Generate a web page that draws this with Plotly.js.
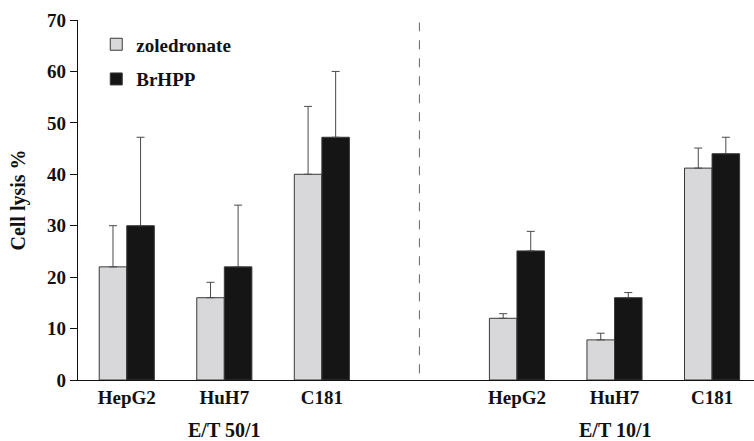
<!DOCTYPE html>
<html><head><meta charset="utf-8">
<script src="https://cdn.plot.ly/plotly-3.0.1.min.js"></script>
<style>body{margin:0;background:#fff}#chart{width:754px;height:441px}</style>
</head><body><div id="chart"></div>
<script>
const categories = ["HepG2", "HuH7", "C181", "", "HepG2", "HuH7", "C181"];
const positions = [0, 1, 2, 4, 5, 6];
const cellLines = ["HepG2", "HuH7", "C181", "HepG2", "HuH7", "C181"];
const zoledronate = [22, 16, 40, 12, 7.8, 41.2];
const zoledronateErr = [8, 3, 13.2, 0.9, 1.3, 3.9];
const brhpp = [30, 22, 47.2, 25.1, 16, 44];
const brhppErr = [17.2, 12, 12.8, 3.8, 1, 3.2];
const groupLabels = ["E/T 50/1", "E/T 10/1"];
const groupCenters = [1, 5];
const separatorX = 3;

const font = "Liberation Serif, Times New Roman, serif";
const lineCol = "#3a3a3a";

const traces = [
  {type: "bar", name: "zoledronate", x: positions, y: zoledronate,
   legendgroup: "a",
   marker: {color: "#d8d8da", line: {color: lineCol, width: 1}},
   error_y: {type: "data", array: zoledronateErr, arrayminus: positions.map(() => 0), symmetric: false,
             color: "#4a4a4a", thickness: 1, width: 4}},
  {type: "bar", name: "BrHPP", x: positions, y: brhpp,
   legendgroup: "b",
   marker: {color: "#151515", line: {color: lineCol, width: 1}},
   error_y: {type: "data", array: brhppErr, arrayminus: positions.map(() => 0), symmetric: false,
             color: "#4a4a4a", thickness: 1, width: 4}}
];

const layout = {
  width: 754, height: 441,
  margin: {l: 78, r: 0, t: 20, b: 61},
  paper_bgcolor: "#fff", plot_bgcolor: "#fff",
  barmode: "group", bargap: 0.435, bargroupgap: 0,
  font: {family: font, color: "#111"},
  showlegend: true,
  legend: {x: 0.027, y: 0.985, xanchor: "left", yanchor: "top", bgcolor: "rgba(0,0,0,0)",
           font: {family: font, size: 19, color: "#111", weight: "bold"},
           traceorder: "grouped", tracegroupgap: 7, itemwidth: 30},
  xaxis: {range: [-0.5, 6.43], tickmode: "array", tickvals: [0,1,2,3,4,5,6], ticktext: categories,
          showline: true, linecolor: "#111", linewidth: 1.2, ticks: "", showgrid: false, zeroline: false,
          tickfont: {family: font, size: 19, color: "#111", weight: "bold"}},
  yaxis: {range: [0, 70], dtick: 10, showline: true, linecolor: "#111", linewidth: 1.2,
          ticks: "outside", ticklen: 7, tickcolor: "#111", showgrid: false, zeroline: false,
          tickfont: {family: font, size: 19, color: "#111", weight: "bold"},
          title: {text: "Cell lysis %", font: {family: font, size: 20, color: "#111", weight: "bold"}, standoff: 16}},
  shapes: [{type: "line", xref: "x", yref: "y", x0: separatorX, x1: separatorX, y0: 1.3, y1: 69.5,
            line: {color: "#666", width: 1, dash: "dash"}}],
  annotations: groupLabels.map((t, i) => ({text: t, x: groupCenters[i], xref: "x", y: -0.138, yref: "paper",
    yanchor: "middle", showarrow: false, font: {family: font, size: 20, color: "#111", weight: "bold"}}))
};

Plotly.newPlot("chart", traces, layout, {displayModeBar: false, staticPlot: true});
</script></body></html>
